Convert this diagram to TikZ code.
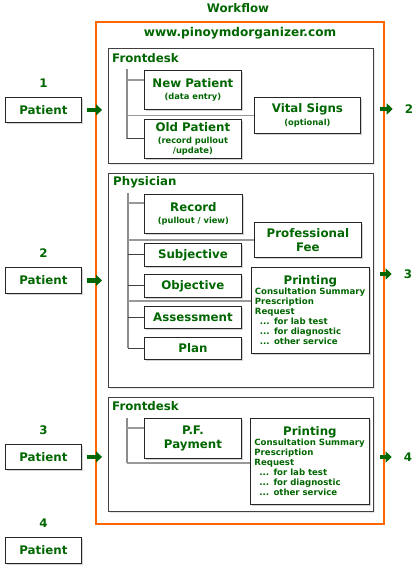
\documentclass[tikz,border=0pt]{standalone}
\usepackage{fontspec}
\setmainfont{DejaVu Sans}
\usetikzlibrary{positioning, arrows.meta, shadows}

\definecolor{wfgreen}{RGB}{0,102,0}
\definecolor{wforange}{RGB}{255,102,0}
\newcommand{\bigtxt}{\fontsize{11.8}{13.5}\selectfont\bfseries}
\newcommand{\smalltxt}{\fontsize{8.3}{10}\selectfont\bfseries}
\newcommand{\listtxt}{\fontsize{8.6}{10}\selectfont\bfseries}

\begin{document}
\begin{tikzpicture}[
    x=1pt, y=-1pt,
    every node/.style={text=wfgreen},
    box/.style={draw=black!85, fill=white, line width=0.8pt, anchor=north west,
        inner sep=0pt, align=center, font=\bigtxt,
        drop shadow={shadow xshift=1.5pt, shadow yshift=-1.5pt, opacity=0.35}},
    frame/.style={draw=black!75, fill=white, line width=0.8pt, anchor=north west,
        inner sep=0pt,
        drop shadow={shadow xshift=1.5pt, shadow yshift=-1.5pt, opacity=0.2}},
    title/.style={font=\bigtxt, anchor=west, inner sep=0pt},
    num/.style={font=\bigtxt, inner sep=0pt},
    move/.style={draw=wfgreen, line width=4.5pt, -{Triangle[length=6pt, width=11pt]}},
    spine/.style={draw=black!45, line width=1.2pt},
    branch/.style={draw=black!40, line width=1.2pt},
    branch dark/.style={draw=black!75, line width=1pt},
]
    \useasboundingbox (0,0) rectangle (418,575);

    % outer frame and titles
    \node[draw=wforange, line width=2pt, anchor=north west, inner sep=0pt,
        minimum width=288, minimum height=502] (web) at (95,21) {};
    \node[font=\bigtxt] (wf) at (238,8) {Workflow};
    \node[font=\fontsize{12.1}{14}\selectfont\bfseries] (site) at (240,33)
        {www.pinoymdorganizer.com};

    % patients
    \node[box, minimum width=76, minimum height=25] (p1) at (5,97)  {Patient};
    \node[box, minimum width=76, minimum height=26] (p2) at (5,267) {Patient};
    \node[box, minimum width=76, minimum height=25] (p3) at (5,444) {Patient};
    \node[box, minimum width=76, minimum height=26] (p4) at (5,537) {Patient};
    \node[num, above=9pt of p1] (n1) {1};
    \node[num, above=9pt of p2] (n2) {2};
    \node[num, above=9pt of p3] (n3) {3};
    \node[num, above=9pt of p4] (n4) {4};
    \node[num] (n2r) at (409,109) {2};
    \node[num] (n3r) at (408,274) {3};
    \node[num] (n4r) at (408,457) {4};

    % frontdesk
    \node[frame, minimum width=265, minimum height=115] (fd1) at (108,48) {};
    \node[title] (fd1t) at (112,58) {Frontdesk};
    \node[box, minimum width=97, minimum height=39] (newp) at (144,70)
        {New Patient\\[-1pt]{\smalltxt (data entry)}};
    \node[box, minimum width=97, minimum height=39] (oldp) at (144,119)
        {Old Patient\\[-2pt]{\smalltxt (record pullout}\\[-3pt]{\smalltxt /update)}};
    \node[box, minimum width=106, minimum height=36] (vital) at (254,97)
        {Vital Signs\\[0pt]{\smalltxt (optional)}};

    % physician
    \node[frame, minimum width=265, minimum height=214] (phys) at (108,173) {};
    \node[title] (physt) at (113,182) {Physician};
    \node[box, minimum width=98, minimum height=39] (rec) at (144,194)
        {Record\\[-1pt]{\smalltxt (pullout / view)}};
    \node[box, minimum width=107, minimum height=35] (fee) at (254,222)
        {Professional\\Fee};
    \node[box, minimum width=97, minimum height=23] (subj) at (144,243) {Subjective};
    \node[box, minimum width=97, minimum height=23] (obj) at (144,274) {Objective};
    \node[box, minimum width=97, minimum height=22] (assess) at (144,306) {Assessment};
    \node[box, minimum width=97, minimum height=22] (plan) at (144,337) {Plan};
    \node[box, minimum width=118, minimum height=86, text width=111pt, align=left,
        font=\listtxt] (prn1) at (251,267)
        {\makebox[111pt]{\bigtxt Printing}\\[0pt]
         \mbox{Consultation Summary}\\Prescription\\Request\\
         \hspace*{5pt}... for lab test\\\hspace*{5pt}... for diagnostic\\
         \hspace*{5pt}... other service};

    % frontdesk again
    \node[frame, minimum width=265, minimum height=114] (fd2) at (108,397) {};
    \node[title] (fd2t) at (112,406) {Frontdesk};
    \node[box, minimum width=97, minimum height=40] (pf) at (144,418)
        {P.F.\\Payment};
    \node[box, minimum width=119, minimum height=86, text width=111pt, align=left,
        font=\listtxt] (prn2) at (250,418)
        {\makebox[111pt]{\bigtxt Printing}\\[0pt]
         \mbox{Consultation Summary}\\Prescription\\Request\\
         \hspace*{5pt}... for lab test\\\hspace*{5pt}... for diagnostic\\
         \hspace*{5pt}... other service};

    % tree lines
    \coordinate (s1) at (127,69);
    \coordinate (newp in) at ([yshift=-10pt]newp.north west);
    \draw[spine] (s1) -- (s1 |- oldp.west);
    \draw[branch] (s1 |- newp in) -- (newp in);
    \draw[branch] (s1 |- vital.west) -- (vital.west);
    \draw[branch dark] (s1 |- oldp.west) -- (oldp.west);

    \coordinate (s2) at (128,193);
    \coordinate (rec in) at ([yshift=-9pt]rec.north west);
    \coordinate (prn1 in) at ([yshift=-34pt]prn1.north west);
    \draw[spine] (s2) -- (s2 |- plan.west);
    \draw[branch] (s2 |- rec in) -- (rec in);
    \draw[branch] (s2 |- fee.west) -- (fee.west);
    \draw[branch] (s2 |- prn1 in) -- (prn1 in);
    \foreach \b in {subj, obj, assess, plan}
        \draw[branch dark] (s2 |- \b.west) -- (\b.west);

    \coordinate (s3) at (127,418);
    \coordinate (pf in) at ([yshift=-10pt]pf.north west);
    \coordinate (prn2 in) at ([yshift=-45pt]prn2.north west);
    \draw[spine] (s3) -- (s3 |- prn2 in);
    \draw[branch] (s3 |- pf in) -- (pf in);
    \draw[branch] (s3 |- prn2 in) -- (prn2 in);

    % moves
    \foreach \p in {p1, p2, p3}
        \draw[move] ([xshift=5pt]\p.east) -- ([xshift=7pt]\p.east -| web.west);
    \foreach \n in {n2r, n3r, n4r}
        \draw[move] ([xshift=-5pt]web.east |- \n.west) -- ([xshift=-12pt]\n.west);
\end{tikzpicture}
\end{document}
